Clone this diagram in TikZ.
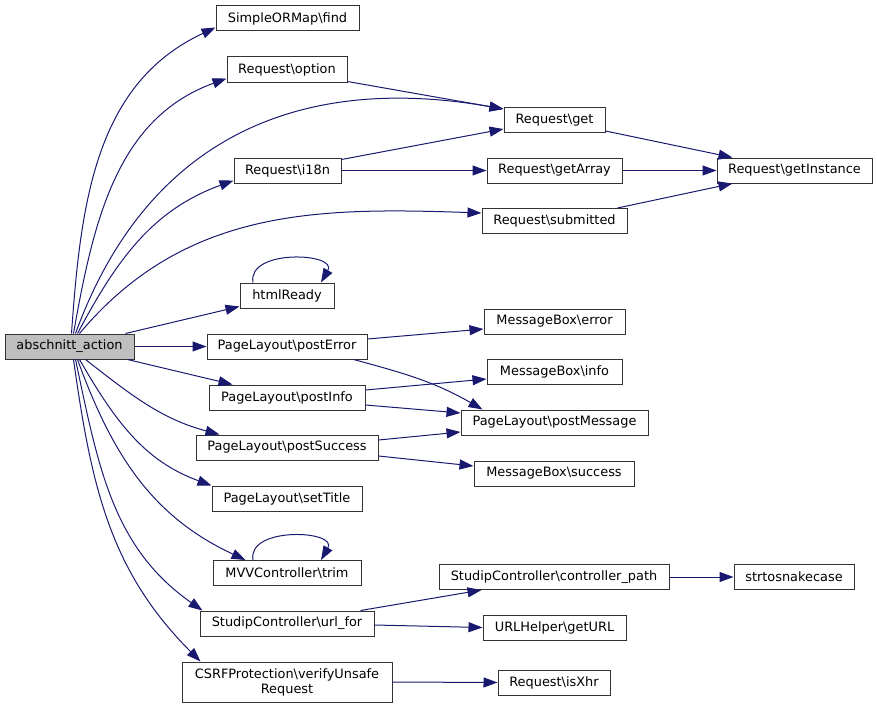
\documentclass[tikz,border=0pt]{standalone}
\usepackage{fontspec}
\setmainfont{DejaVu Sans}
\usetikzlibrary{arrows.meta}
\definecolor{edgeblue}{HTML}{191970}
\definecolor{nodegray}{HTML}{BFBFBF}
\begin{document}
\begin{tikzpicture}[x=1pt,y=1pt,
  fn/.style={draw=black!80, line width=1pt, rectangle, inner sep=0pt, minimum height=25pt,
    font=\fontsize{12.9}{15}\selectfont, align=center, fill=white},
  call/.style={draw=edgeblue, line width=1pt, -{Triangle[length=14pt,width=10pt]}},
]
\useasboundingbox (0,0) rectangle (877,-709);
\node[fn, fill=nodegray, minimum width=129pt] (a) at (69.5,-346.5) {abschnitt\_action};
\node[fn, minimum width=143pt] (find) at (287.5,-18.5) {SimpleORMap\textbackslash find};
\node[fn, minimum width=120pt] (option) at (287,-69.5) {Request\textbackslash option};
\node[fn, minimum width=107pt] (i18n) at (287.5,-170.5) {Request\textbackslash i18n};
\node[fn, minimum width=101pt] (get) at (554.5,-120) {Request\textbackslash get};
\node[fn, minimum width=135pt] (getArray) at (554.5,-170.5) {Request\textbackslash getArray};
\node[fn, minimum width=155pt] (inst) at (794.5,-170.5) {Request\textbackslash getInstance};
\node[fn, minimum width=145pt] (subm) at (554.5,-221) {Request\textbackslash submitted};
\node[fn, minimum width=94pt] (html) at (287,-295.5) {htmlReady};
\node[fn, minimum width=160pt] (perr) at (287,-346.5) {PageLayout\textbackslash postError};
\node[fn, minimum width=156pt] (pinfo) at (287,-397.5) {PageLayout\textbackslash postInfo};
\node[fn, minimum width=182pt] (psucc) at (287,-447.5) {PageLayout\textbackslash postSuccess};
\node[fn, minimum width=150pt] (ptitle) at (287,-498.5) {PageLayout\textbackslash setTitle};
\node[fn, minimum width=148pt] (trim) at (287,-573) {MVVController\textbackslash trim};
\node[fn, minimum width=174pt] (url) at (287,-623.5) {StudipController\textbackslash url\_for};
\node[fn, minimum width=210pt, minimum height=40pt] (csrf) at (287,-682) {CSRFProtection\textbackslash verifyUnsafe\\Request};
\node[fn, minimum width=141pt] (merr) at (554.5,-321.5) {MessageBox\textbackslash error};
\node[fn, minimum width=135pt] (minfo) at (554.5,-372) {MessageBox\textbackslash info};
\node[fn, minimum width=187pt] (pmsg) at (554.5,-422.5) {PageLayout\textbackslash postMessage};
\node[fn, minimum width=160pt] (msucc) at (554,-473.5) {MessageBox\textbackslash success};
\node[fn, minimum width=230pt] (cpath) at (554,-577) {StudipController\textbackslash controller\_path};
\node[fn, minimum width=120pt] (snake) at (794,-577) {strtosnakecase};
\node[fn, minimum width=143pt] (geturl) at (554.5,-627.5) {URLHelper\textbackslash getURL};
\node[fn, minimum width=112pt] (xhr) at (554,-682.5) {Request\textbackslash isXhr};
% edges from abschnitt_action (top)
\draw[call] ([xshift=2pt]a.north) to[out=86,in=205] ([yshift=-9pt]find.west);
\draw[call] ([xshift=4pt]a.north) to[out=80,in=200] ([yshift=-9pt]option.west);
\draw[call] ([xshift=6pt]a.north) to[out=70,in=170,looseness=1.1] ([yshift=11pt]get.west);
\draw[call] ([xshift=8pt]a.north) to[out=62,in=200] ([yshift=-10pt]i18n.west);
\draw[call] ([xshift=10pt]a.north) to[out=50,in=178] ([yshift=8pt]subm.west);
\draw[call] ([xshift=-9pt]a.north east) -- ([yshift=2pt]html.south west);
\draw[call] (a.east) -- (perr.west);
\draw[call] ([xshift=-7pt]a.south east) -- ([xshift=24pt]pinfo.north west);
% edges from abschnitt_action (bottom)
\draw[call] ([xshift=16pt]a.south) to[out=-38,in=165] ([xshift=24pt]psucc.north west);
\draw[call] ([xshift=10pt]a.south) to[out=-60,in=160] (ptitle.north west);
\draw[call] ([xshift=8pt]a.south) to[out=-70,in=155] ([xshift=33pt]trim.north west);
\draw[call] ([xshift=6pt]a.south) to[out=-78,in=145] ([xshift=3pt]url.north west);
\draw[call] ([xshift=4pt]a.south) to[out=-82,in=135] ([xshift=19pt]csrf.north west);
% self loops
\draw[call] ([xshift=-34pt]html.north) to[out=100,in=60,looseness=1.3] ([xshift=34pt]html.north);
\draw[call] ([xshift=-34pt]trim.north) to[out=100,in=60,looseness=1.3] ([xshift=34pt]trim.north);
% second level
\draw[call] ([yshift=1pt]option.south east) -- ([yshift=11pt]get.west);
\draw[call] ([yshift=-2pt]i18n.north east) -- ([yshift=-9pt]get.west);
\draw[call] (i18n.east) -- (getArray.west);
\draw[call] ([yshift=2pt]get.south east) -- ([xshift=16pt]inst.north west);
\draw[call] (getArray.east) -- (inst.west);
\draw[call] ([xshift=-10pt]subm.north east) -- ([xshift=16pt]inst.south west);
\draw[call] ([yshift=7.5pt]perr.east) -- ([yshift=-7.5pt]merr.west);
\draw[call] ([xshift=-14pt]perr.south east) to[out=-15,in=150] ([xshift=22pt]pmsg.north west);
\draw[call] ([yshift=7.5pt]pinfo.east) -- ([yshift=-7pt]minfo.west);
\draw[call] ([yshift=-7.5pt]pinfo.east) -- ([yshift=9.5pt]pmsg.west);
\draw[call] ([yshift=7.5pt]psucc.east) -- ([yshift=-9.5pt]pmsg.west);
\draw[call] ([yshift=-8.5pt]psucc.east) -- ([yshift=7.5pt]msucc.west);
\draw[call] ([xshift=-14pt]url.north east) -- ([xshift=43pt]cpath.south west);
\draw[call] ([yshift=-1.5pt]url.east) -- (geturl.west);
\draw[call] (cpath.east) -- (snake.west);
\draw[call] (csrf.east) -- (xhr.west);
\end{tikzpicture}
\end{document}
